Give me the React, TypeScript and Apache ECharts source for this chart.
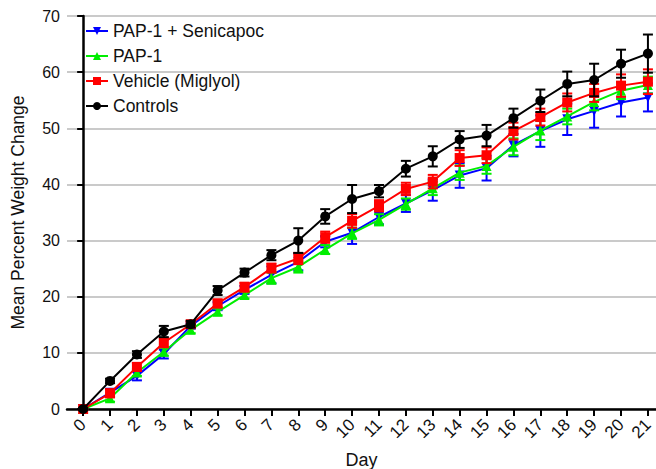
import React, { useEffect, useRef } from "react";
import * as echarts from "echarts";

const days = [0, 1, 2, 3, 4, 5, 6, 7, 8, 9, 10, 11, 12, 13, 14, 15, 16, 17, 18, 19, 20, 21];

const comboMean = [0, 2.9, 5.9, 9.8, 14.8, 18.3, 21.2, 23.9, 26.2, 29.8, 31.4, 34.2, 36.6, 39.0, 41.6, 42.9, 47.0, 49.5, 51.6, 53.1, 54.6, 55.5];
const comboErr = [0.2, 0.6, 0.8, 0.8, 0.5, 0.7, 0.7, 1.5, 1.5, 1.0, 2.0, 1.3, 1.5, 1.9, 2.2, 2.2, 2.0, 2.8, 2.8, 3.0, 2.5, 2.5];

const pap1Mean = [0, 1.9, 6.5, 10.2, 14.1, 17.3, 20.3, 23.3, 25.3, 28.4, 31.3, 33.7, 36.5, 39.3, 42.1, 43.3, 46.7, 49.6, 52.1, 54.7, 56.7, 57.7];
const pap1Err = [0.2, 0.6, 0.6, 0.7, 0.6, 0.6, 0.6, 1.0, 1.0, 0.8, 1.0, 1.0, 1.0, 1.2, 1.3, 1.4, 1.5, 1.7, 1.4, 1.5, 1.5, 1.5];

const vehicleMean = [0, 2.8, 7.5, 11.8, 15.1, 18.8, 21.7, 25.1, 26.8, 30.6, 33.5, 36.2, 39.2, 40.5, 44.7, 45.2, 49.5, 52.0, 54.6, 56.3, 57.6, 58.3];
const vehicleErr = [0.2, 0.7, 0.7, 0.8, 0.5, 0.7, 0.8, 0.8, 1.0, 1.0, 1.2, 1.0, 1.1, 1.2, 1.4, 1.4, 1.5, 1.5, 1.6, 1.6, 2.0, 2.2];

const controlMean = [0, 5.0, 9.7, 13.8, 15.1, 21.1, 24.3, 27.4, 30.0, 34.3, 37.4, 38.8, 42.8, 45.0, 48.0, 48.7, 51.8, 54.9, 57.9, 58.6, 61.5, 63.3];
const controlErr = [0.2, 0.4, 0.6, 1.0, 0.6, 0.8, 0.7, 0.9, 2.2, 1.3, 2.5, 1.1, 1.4, 1.8, 1.5, 1.9, 1.7, 2.0, 2.2, 2.9, 2.5, 3.4];

const yTicks = { min: 0, max: 70, step: 10 };

const groups = [
  { name: "PAP-1 + Senicapoc", color: "#0000ff", mean: comboMean, err: comboErr, symbol: "triangle", rotate: 180 },
  { name: "PAP-1", color: "#00ee00", mean: pap1Mean, err: pap1Err, symbol: "triangle", rotate: 0 },
  { name: "Vehicle (Miglyol)", color: "#ff0000", mean: vehicleMean, err: vehicleErr, symbol: "rect", rotate: 0 },
  { name: "Controls", color: "#000000", mean: controlMean, err: controlErr, symbol: "circle", rotate: 0 },
];

const FONT = '"Liberation Sans", Arial, sans-serif';

export default function App() {
  const ref = useRef<HTMLDivElement>(null);

  useEffect(() => {
    if (!ref.current) return;
    const chart = echarts.init(ref.current, undefined, { renderer: "svg" });

    const series: any[] = [];
    groups.forEach((g, i) => {
      // SEM whiskers with caps, drawn just beneath the group's line
      series.push({
        type: "custom",
        name: g.name + " SEM",
        z: 2 + i * 2,
        silent: true,
        data: days.map((d, k) => [d, g.mean[k], g.err[k]]),
        encode: { x: 0, y: 1 },
        renderItem: (_params: any, api: any) => {
          const x = api.value(0);
          const y = api.value(1);
          const e = api.value(2);
          const top = api.coord([x, y + e]);
          const bot = api.coord([x, y - e]);
          const hw = 5;
          const st = { stroke: g.color, lineWidth: 2 };
          return {
            type: "group",
            children: [
              { type: "line", shape: { x1: top[0], y1: top[1], x2: bot[0], y2: bot[1] }, style: st },
              { type: "line", shape: { x1: top[0] - hw, y1: top[1], x2: top[0] + hw, y2: top[1] }, style: st },
              { type: "line", shape: { x1: bot[0] - hw, y1: bot[1], x2: bot[0] + hw, y2: bot[1] }, style: st },
            ],
          };
        },
      });
      series.push({
        type: "line",
        name: g.name,
        z: 3 + i * 2,
        data: days.map((d, k) => [d, g.mean[k]]),
        symbol: g.symbol,
        symbolRotate: g.rotate,
        symbolSize: 10,
        showAllSymbol: true,
        lineStyle: { color: g.color, width: 2 },
        itemStyle: { color: g.color },
      });
    });

    chart.setOption({
      animation: false,
      backgroundColor: "#ffffff",
      textStyle: { fontFamily: FONT },
      grid: { left: 67, right: 0, top: 16, bottom: 60, containLabel: false, outerBoundsMode: "none" },
      legend: {
        data: groups.map((g) => g.name),
        orient: "vertical",
        left: 80,
        top: 17,
        itemWidth: 22,
        itemHeight: 10,
        itemGap: 7,
        textStyle: { fontSize: 17.5, color: "#111", fontFamily: FONT },
      },
      xAxis: {
        type: "value",
        min: -0.6,
        max: 21.3,
        name: "Day",
        nameLocation: "middle",
        nameGap: 42,
        nameTextStyle: { fontSize: 18, color: "#111", fontFamily: FONT },
        axisLine: { lineStyle: { color: "#000", width: 2.5 } },
        axisTick: { customValues: days, length: 7, lineStyle: { color: "#000", width: 2 } },
        axisLabel: {
          customValues: days,
          rotate: 45,
          fontSize: 17,
          color: "#111",
          margin: 13,
          fontFamily: FONT,
        },
        splitLine: { show: false },
      },
      yAxis: {
        type: "value",
        min: yTicks.min,
        max: yTicks.max,
        interval: yTicks.step,
        name: "Mean Percent Weight Change",
        nameLocation: "middle",
        nameGap: 40,
        nameTextStyle: { fontSize: 17.5, color: "#111", fontFamily: FONT },
        axisLine: { show: true, lineStyle: { color: "#000", width: 2.5 } },
        axisTick: { show: true, length: 6, lineStyle: { color: "#000", width: 2 } },
        axisLabel: { fontSize: 16, color: "#111", margin: 7, fontFamily: FONT },
        splitLine: { show: true, lineStyle: { color: "#b8b8b8", width: 1.5 } },
      },
      series,
    });

    return () => chart.dispose();
  }, []);

  return (
    <div
      ref={ref}
      style={{ position: "absolute", left: 0, top: 0, width: 656, height: 469 }}
    />
  );
}
